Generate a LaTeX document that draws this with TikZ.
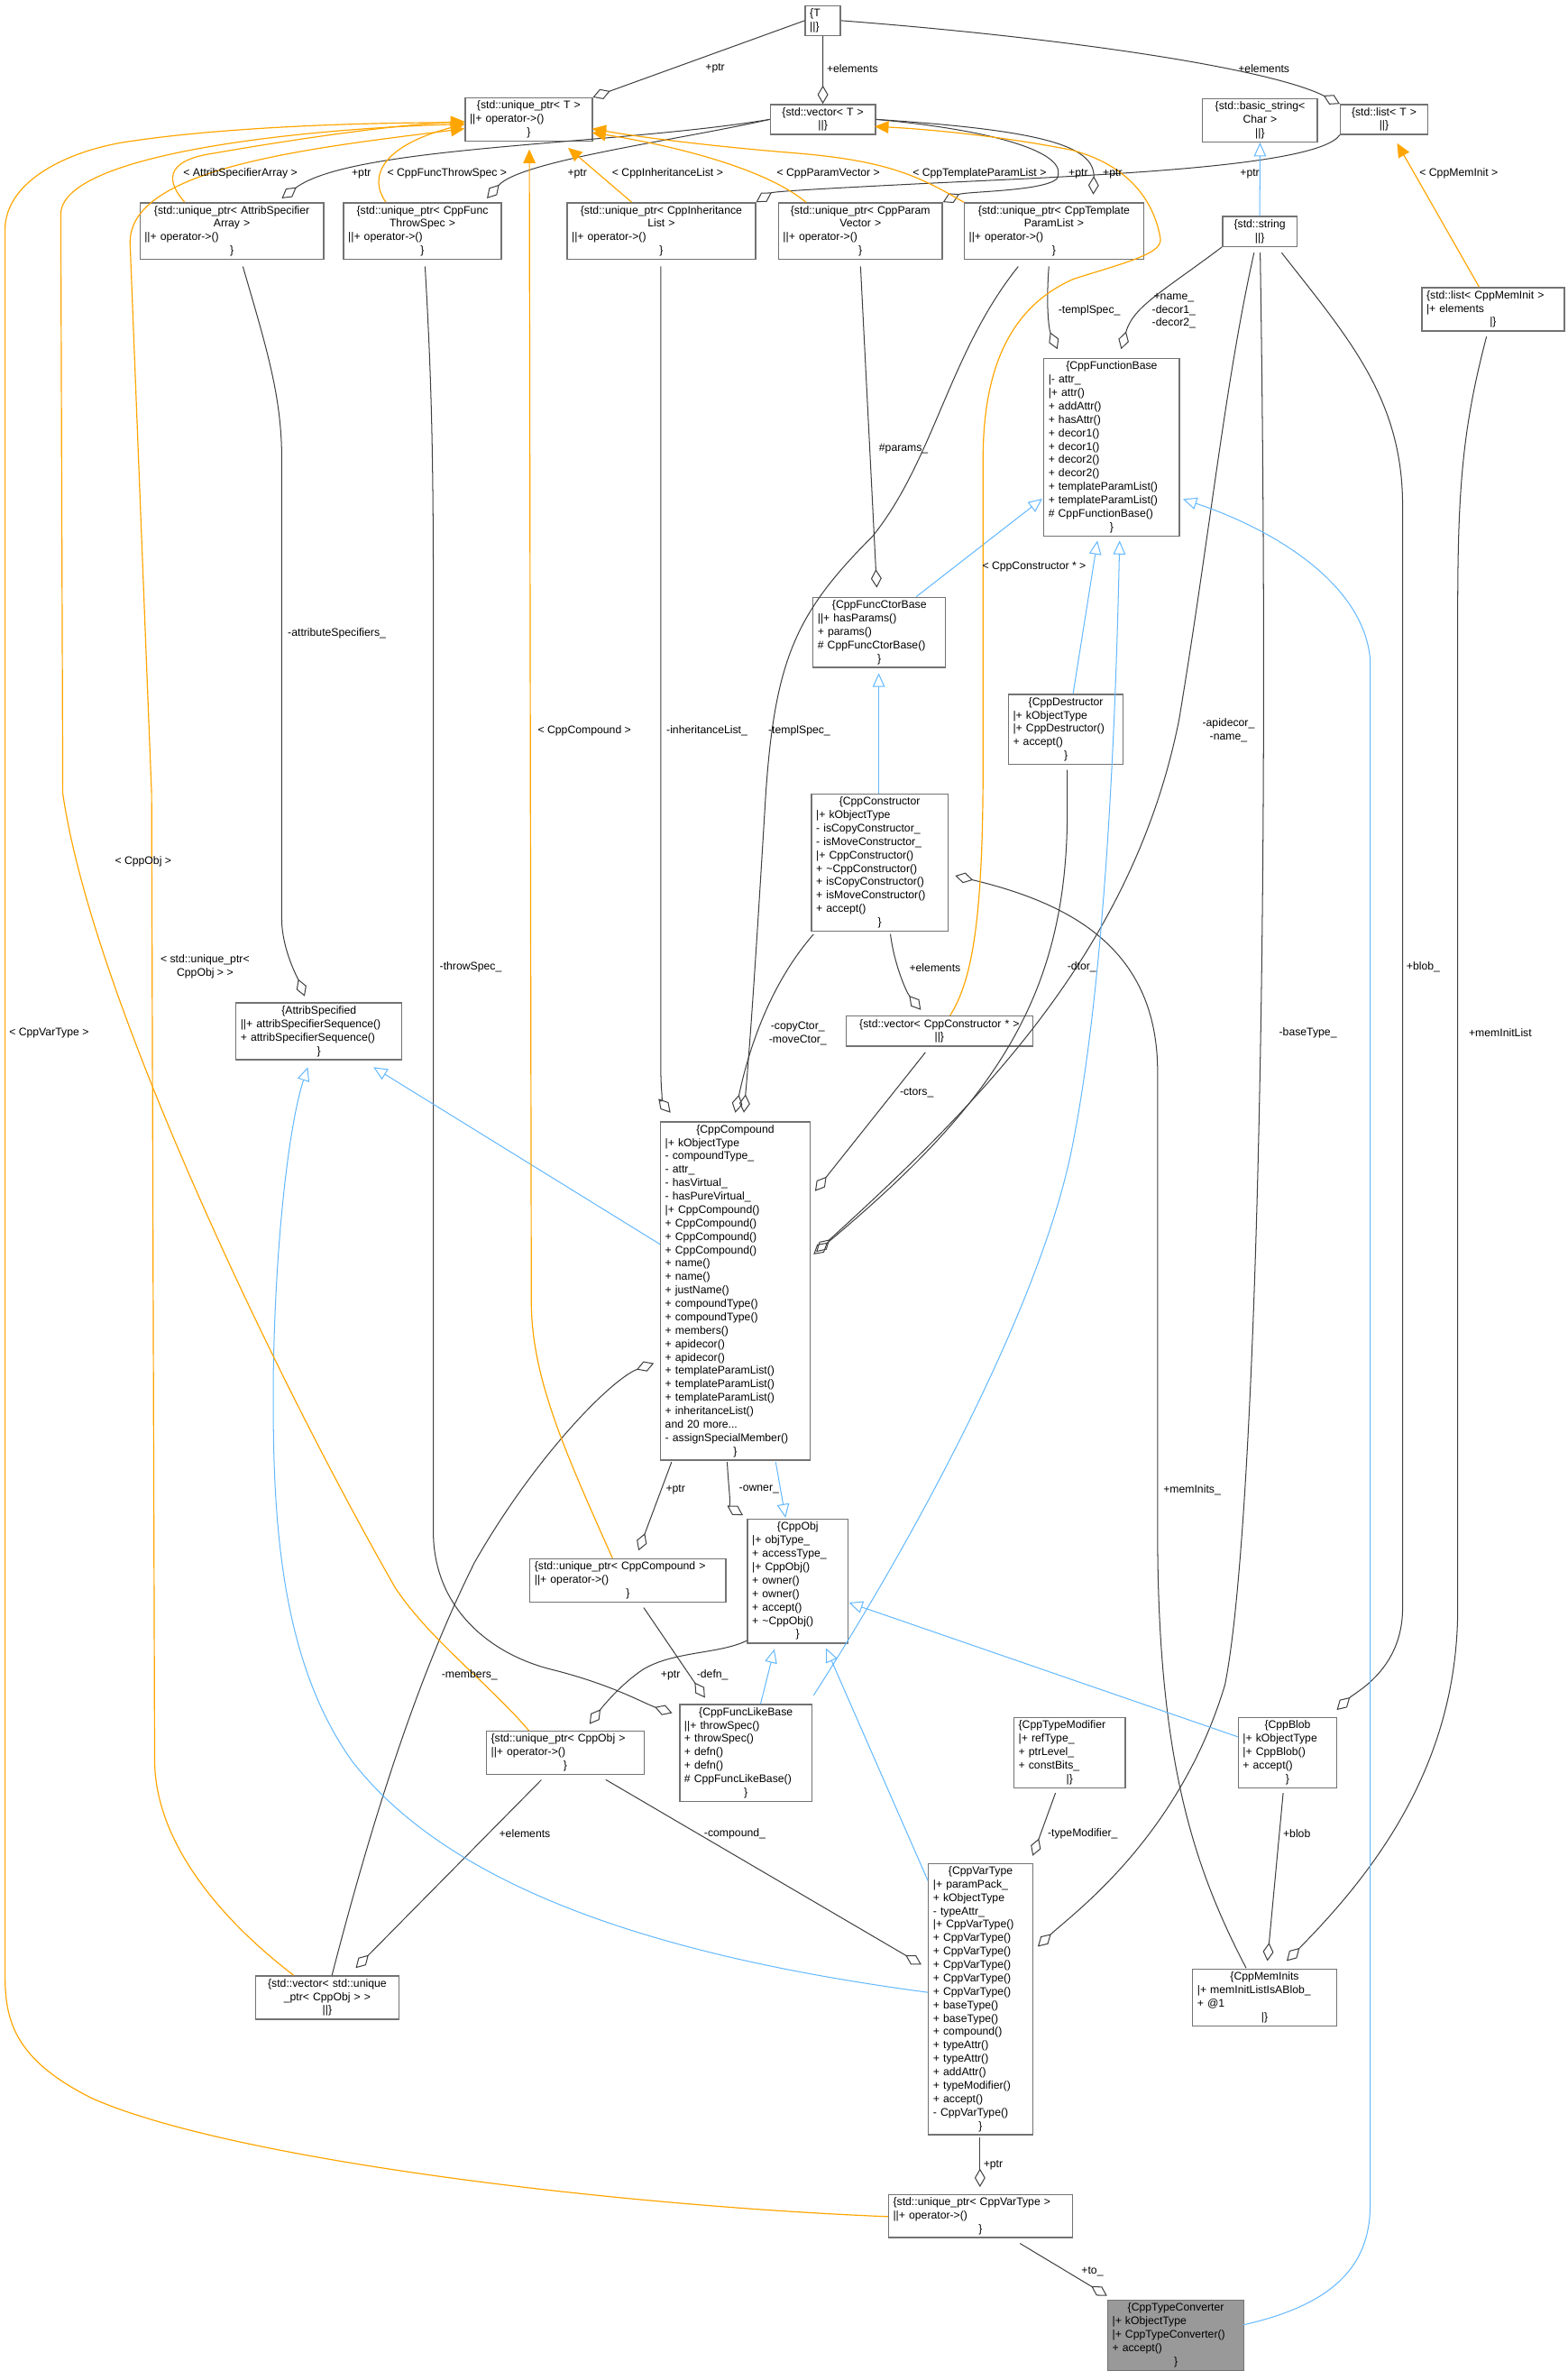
\documentclass[tikz,border=0pt]{standalone}
\usepackage{fontspec}
\setmainfont{Liberation Sans}
\usetikzlibrary{arrows.meta}
\definecolor{inhblue}{RGB}{99,184,255}
\definecolor{tmplor}{RGB}{255,165,0}
\newcommand{\ctr}[1]{\makebox[\hsize]{#1}}
\hyphenpenalty=10000
\exhyphenpenalty=10000
\begin{document}
\begin{tikzpicture}[x=0.5pt,y=-0.5pt,
 box/.style={draw=black!55,line width=0.4pt,fill=white,anchor=north west,align=left,inner xsep=1.5pt,inner ysep=1pt,font=\fontsize{3.6}{4.38}\selectfont},
 lbl/.style={font=\fontsize{3.6}{4.38}\selectfont,align=center,inner sep=0.5pt},
 agg/.style={draw=black!75,line width=0.3pt,-{Diamond[open,length=6pt,width=3.5pt]}},
 inh/.style={draw=inhblue,line width=0.3pt,-{Triangle[open,length=4.5pt,width=4pt]}},
 tpl/.style={draw=tmplor,line width=0.35pt,-{Triangle[length=4.5pt,width=4pt]}}]
\useasboundingbox (0,0) rectangle (1024,1554);
% nodes
\node[box,text width=8.5pt] (T) at (525.5,3.3) {\{T\\||\}};
\node[box,text width=38.5pt] (uptrT) at (303.4,63.5) {\ctr{\{std::unique\_ptr\textless{} T \textgreater}\\||+ operator-\textgreater()\\\ctr{\}}};
\node[box,text width=31.3pt] (vecT) at (502.7,67.8) {\ctr{\{std::vector\textless{} T \textgreater}\\\ctr{||\}}};
\node[box,text width=34.5pt] (bstr) at (785,64) {\ctr{\{std::basic\_string\textless}\\\ctr{Char \textgreater}\\\ctr{||\}}};
\node[box,text width=25.5pt] (listT) at (875,67.8) {\ctr{\{std::list\textless{} T \textgreater}\\\ctr{||\}}};
\node[box,text width=57pt] (upAttrib) at (91,132) {\ctr{\{std::unique\_ptr\textless{} AttribSpecifier}\\\ctr{Array \textgreater}\\||+ operator-\textgreater()\\\ctr{\}}};
\node[box,text width=48.5pt] (upThrow) at (224,132) {\ctr{\{std::unique\_ptr\textless{} CppFunc}\\\ctr{ThrowSpec \textgreater}\\||+ operator-\textgreater()\\\ctr{\}}};
\node[box,text width=58.5pt] (upInh) at (370,132) {\ctr{\{std::unique\_ptr\textless{} CppInheritance}\\\ctr{List \textgreater}\\||+ operator-\textgreater()\\\ctr{\}}};
\node[box,text width=50.5pt] (upParam) at (508,132) {\ctr{\{std::unique\_ptr\textless{} CppParam}\\\ctr{Vector \textgreater}\\||+ operator-\textgreater()\\\ctr{\}}};
\node[box,text width=55.5pt] (upTempl) at (629.4,132) {\ctr{\{std::unique\_ptr\textless{} CppTemplate}\\\ctr{ParamList \textgreater}\\||+ operator-\textgreater()\\\ctr{\}}};
\node[box,text width=21.3pt] (str) at (798,141) {\ctr{\{std::string}\\\ctr{||\}}};
\node[box,text width=43.5pt] (listMI) at (928.2,187.4) {\{std::list\textless{} CppMemInit \textgreater\\|+ elements\\\ctr{|\}}};
\node[box,text width=41.3pt] (FB) at (681.3,233.7) {\ctr{\{CppFunctionBase}\\|- attr\_\\|+ attr()\\+ addAttr()\\+ hasAttr()\\+ decor1()\\+ decor1()\\+ decor2()\\+ decor2()\\+ templateParamList()\\+ templateParamList()\\\# CppFunctionBase()\\\ctr{\}}};
\node[box,text width=40.3pt] (FCB) at (530.6,389.6) {\ctr{\{CppFuncCtorBase}\\||+ hasParams()\\+ params()\\\# CppFuncCtorBase()\\\ctr{\}}};
\node[box,text width=34.5pt] (Dtor) at (658.2,453) {\ctr{\{CppDestructor}\\|+ kObjectType\\|+ CppDestructor()\\+ accept()\\\ctr{\}}};
\node[box,text width=41.5pt] (Ctor) at (529.6,518) {\ctr{\{CppConstructor}\\|+ kObjectType\\- isCopyConstructor\_\\- isMoveConstructor\_\\|+ CppConstructor()\\+ \textasciitilde CppConstructor()\\+ isCopyConstructor()\\+ isMoveConstructor()\\+ accept()\\\ctr{\}}};
\node[box,text width=58pt] (vecCtor) at (552.1,663.1) {\ctr{\{std::vector\textless{} CppConstructor * \textgreater}\\\ctr{||\}}};
\node[box,text width=51.2pt] (AS) at (153.7,654.5) {\ctr{\{AttribSpecified}\\||+ attribSpecifierSequence()\\+ attribSpecifierSequence()\\\ctr{\}}};
\node[box,text width=45.8pt] (Comp) at (431,732.1) {\ctr{\{CppCompound}\\|+ kObjectType\\- compoundType\_\\- attr\_\\- hasVirtual\_\\- hasPureVirtual\_\\|+ CppCompound()\\+ CppCompound()\\+ CppCompound()\\+ CppCompound()\\+ name()\\+ name()\\+ justName()\\+ compoundType()\\+ compoundType()\\+ members()\\+ apidecor()\\+ apidecor()\\+ templateParamList()\\+ templateParamList()\\+ templateParamList()\\+ inheritanceList()\\and 20 more...\\- assignSpecialMember()\\\ctr{\}}};
\node[box,text width=29.8pt] (Obj) at (487.8,991.6) {\ctr{\{CppObj}\\|+ objType\_\\+ accessType\_\\|+ CppObj()\\+ owner()\\+ owner()\\+ accept()\\+ \textasciitilde CppObj()\\\ctr{\}}};
\node[box,text width=61pt] (upComp) at (345.7,1017.4) {\{std::unique\_ptr\textless{} CppCompound \textgreater\\||+ operator-\textgreater()\\\ctr{\}}};
\node[box,text width=40.2pt] (FLB) at (443.5,1112.5) {\ctr{\{CppFuncLikeBase}\\||+ throwSpec()\\+ throwSpec()\\+ defn()\\+ defn()\\\# CppFuncLikeBase()\\\ctr{\}}};
\node[box,text width=48.5pt] (upObj) at (317.3,1130) {\{std::unique\_ptr\textless{} CppObj \textgreater\\||+ operator-\textgreater()\\\ctr{\}}};
\node[box,text width=33.3pt] (TM) at (661.8,1121.1) {\{CppTypeModifier\\|+ refType\_\\+ ptrLevel\_\\+ constBits\_\\\ctr{|\}}};
\node[box,text width=29.2pt] (Blob) at (808.3,1121.1) {\ctr{\{CppBlob}\\|+ kObjectType\\|+ CppBlob()\\+ accept()\\\ctr{\}}};
\node[box,text width=31pt] (VT) at (606,1216.3) {\ctr{\{CppVarType}\\|+ paramPack\_\\+ kObjectType\\- typeAttr\_\\|+ CppVarType()\\+ CppVarType()\\+ CppVarType()\\+ CppVarType()\\+ CppVarType()\\+ CppVarType()\\+ baseType()\\+ baseType()\\+ compound()\\+ typeAttr()\\+ typeAttr()\\+ addAttr()\\+ typeModifier()\\+ accept()\\- CppVarType()\\\ctr{\}}};
\node[box,text width=44pt] (MI) at (778.5,1285.4) {\ctr{\{CppMemInits}\\|+ memInitListIsABlob\_\\+ @1\\\ctr{|\}}};
\node[box,text width=43.7pt] (vecUO) at (166.6,1289.7) {\ctr{\{std::vector\textless{} std::unique}\\\ctr{\_ptr\textless{} CppObj \textgreater{} \textgreater}\\\ctr{||\}}};
\node[box,text width=57pt] (upVT) at (579.9,1432.4) {\{std::unique\_ptr\textless{} CppVarType \textgreater\\||+ operator-\textgreater()\\\ctr{\}}};
\node[box,text width=41.5pt,fill=black!40] (TC) at (723,1501.5) {\ctr{\{CppTypeConverter}\\|+ kObjectType\\|+ CppTypeConverter()\\+ accept()\\\ctr{\}}};
% aggregation edges
\draw[agg] (T.west) -- (uptrT.north east);
\draw[agg] (T.south) -- (vecT.north);
\draw[agg] (T.east) .. controls (700,25) and (830,45) .. (listT.north west);
\draw[agg] (vecT.west) .. controls (400,95) and (230,95) .. (184,129.5);
\draw[agg] (vecT.west) .. controls (440,92) and (340,105) .. (318,129.5);
\draw[agg] (listT.south west) .. controls (860,110) and (700,115) .. (600,120) .. controls (540,123) and (505,125) .. (upInh.north east);
\draw[agg] (vecT.east) .. controls (650,85) and (700,100) .. (690,117) .. controls (680,125) and (630,125) .. (upParam.north east);
\draw[agg] (vecT.east) .. controls (680,85) and (715,95) .. (714,127);
\draw[agg] (158.6,174) .. controls (175,230) and (184,260) .. (184,300) -- (184,600) .. controls (184,620) and (195,640) .. (199,650.5);
\draw[agg] (277.6,174) .. controls (282,250) and (283,300) .. (283,400) -- (283,1000) .. controls (283,1050) and (320,1080) .. (360,1090) .. controls (400,1100) and (420,1112) .. (439,1118.5);
\draw[agg] (431.6,174) -- (431.6,700) .. controls (431.6,715) and (434,722) .. (437.9,726.5);
\draw[agg] (562,174) -- (572.6,383.7);
\draw[agg] (665,174) .. controls (620,230) and (610,300) .. (570,350) .. controls (520,400) and (506,430) .. (500,520) .. controls (494,620) and (490,680) .. (485.8,726.5);
\draw[agg] (685,174) .. controls (683,200) and (685,215) .. (690.6,228);
\draw[agg] (str.south west) .. controls (760,190) and (740,200) .. (732.2,228);
\draw[agg] (819,165) .. controls (800,250) and (790,350) .. (770,470) .. controls (740,620) and (640,720) .. (533,817.4);
\draw[agg] (697,502.7) -- (697,530) .. controls (697,650) and (650,720) .. (531.3,819);
\draw[agg] (823,165) .. controls (830,600) and (820,1000) .. (800,1100) .. controls (770,1200) and (700,1250) .. (677.7,1271);
\draw[agg] (837,165) .. controls (880,220) and (916,260) .. (916,330) -- (916,1050) .. controls (916,1090) and (885,1105) .. (873,1116.5);
\draw[agg] (970.8,219.8) .. controls (955,280) and (952,320) .. (952,400) -- (952,1050) .. controls (952,1150) and (900,1220) .. (840.3,1280.4);
\draw[agg] (813.8,1285) .. controls (780,1220) and (756,1150) .. (756,1000) -- (756,700) .. controls (756,620) and (700,590) .. (623.8,571.8);
\draw[agg] (581.5,609.8) .. controls (584,630) and (592,648) .. (601.4,659.4);
\draw[agg] (531.3,610) .. controls (505,640) and (490,680) .. (480.2,726.5);
\draw[agg] (604.3,687.2) -- (532.3,777.7);
\draw[agg] (438.6,954.6) -- (417,1012.4);
\draw[agg] (474.9,954.6) .. controls (476,975) and (478,985) .. (485.2,989.3);
\draw[agg] (420.4,1049.7) -- (460.4,1108.5);
\draw[agg] (487.8,1071.2) .. controls (470,1080) and (440,1078) .. (420,1090) .. controls (405,1100) and (393,1115) .. (385,1125.7);
\draw[agg] (353.6,1162.1) -- (232.3,1285);
\draw[agg] (216.8,1289.7) .. controls (240,1200) and (270,1100) .. (310,1020) .. controls (350,950) and (400,900) .. (427,890.1);
\draw[agg] (395.6,1162) -- (601.7,1282.7);
\draw[agg] (689.3,1170.7) -- (674.4,1211.7);
\draw[agg] (838,1170.7) -- (827.7,1280.4);
\draw[agg] (640,1395.4) -- (640,1428);
\draw[agg] (666.1,1464.8) -- (723,1499);
% inheritance
\draw[inh] (str.north) -- (bstr.south);
\draw[inh] (598.4,389.6) -- (680.7,325.6);
\draw[inh] (700.8,453) -- (716.7,353);
\draw[inh] (573.9,518) -- (573.9,439.5);
\draw[inh] (431,812.4) -- (243.9,696.8);
\draw[inh] (506.6,954.6) -- (513,991);
\draw[inh] (496.7,1112.5) -- (505.7,1076.8);
\draw[inh] (531.3,1107) .. controls (600,1000) and (680,850) .. (700,750) .. controls (720,650) and (728,500) .. (731.2,353);
\draw[inh] (808.3,1134) -- (554.4,1046.4);
\draw[inh] (606,1228) -- (539.5,1076.2);
\draw[inh] (606,1300.9) .. controls (450,1280) and (300,1240) .. (230,1150) .. controls (180,1080) and (178,980) .. (178.5,898) .. controls (180,800) and (190,730) .. (201,696.8);
\draw[inh] (811.9,1518) .. controls (870,1505) and (894.8,1480) .. (894.8,1440) -- (894.8,430) .. controls (890,380) and (830,345) .. (772.6,325.9);
% template instantiation
\draw[tpl] (120.6,132) .. controls (110,120) and (105,105) .. (140,100) .. controls (180,93) and (250,82) .. (303.4,79.3);
\draw[tpl] (252,132) .. controls (240,115) and (250,95) .. (303.4,81);
\draw[tpl] (412.5,132) -- (371,96.5);
\draw[tpl] (526.3,132) .. controls (500,110) and (440,95) .. (386.7,86.6);
\draw[tpl] (629.4,132) .. controls (600,115) and (580,105) .. (520,100) .. controls (470,96) and (420,90) .. (386.7,84);
\draw[tpl] (400,1017.4) .. controls (370,950) and (347,900) .. (347,850) -- (345.7,97.5);
\draw[tpl] (345.4,1130) .. controls (320,1100) and (280,1070) .. (258,1036.5) .. controls (180,900) and (60,650) .. (41,518) -- (39.7,140) .. controls (39.7,100) and (200,84) .. (303.4,81);
\draw[tpl] (191.7,1289.7) .. controls (140,1250) and (101,1200) .. (101,1149) -- (99,518) -- (85,160) .. controls (82,110) and (200,97) .. (303.4,84);
\draw[tpl] (579.9,1447.3) .. controls (400,1440) and (150,1410) .. (60,1370) .. controls (10,1345) and (3.3,1320) .. (3.3,1290) -- (3.3,150) .. controls (3.3,120) and (40,100) .. (80,93) .. controls (150,82) and (250,80) .. (303.4,80);
\draw[tpl] (620.5,663) .. controls (635,640) and (642,600) .. (642,500) -- (642,300) .. controls (642,240) and (660,200) .. (701.5,182) .. controls (740,170) and (760,165) .. (757.7,155) .. controls (755,140) and (745,110) .. (700,98) .. controls (650,88) and (600,84) .. (571.3,82.6);
\draw[tpl] (966,187.4) -- (912.4,93.5);
% labels
\node[lbl] (l1) at (467,44.6) {+ptr};
\node[lbl] (l2) at (556.7,44.6) {+elements};
\node[lbl] (l3) at (825.4,44.6) {+elements};
\node[lbl] (l4) at (157,113.4) {\textless{} AttribSpecifierArray \textgreater};
\node[lbl] (l5) at (236,113.4) {+ptr};
\node[lbl] (l6) at (292,113.4) {\textless{} CppFuncThrowSpec \textgreater};
\node[lbl] (l7) at (377,113.4) {+ptr};
\node[lbl] (l8) at (436,113.4) {\textless{} CppInheritanceList \textgreater};
\node[lbl] (l9) at (541,113.4) {\textless{} CppParamVector \textgreater};
\node[lbl] (l10) at (639.7,113.4) {\textless{} CppTemplateParamList \textgreater};
\node[lbl] (l11) at (704.2,113.4) {+ptr};
\node[lbl] (l12) at (726.6,113.4) {+ptr};
\node[lbl] (l13) at (816.2,113.4) {+ptr};
\node[lbl] (l14) at (952.7,113.4) {\textless{} CppMemInit \textgreater};
\node[lbl] (l15) at (711.4,203) {-templSpec\_};
\node[lbl] (l16) at (766.6,203) {+name\_\\-decor1\_\\-decor2\_};
\node[lbl] (l17) at (590.1,293) {\#params\_};
\node[lbl] (l18) at (675.4,370.2) {\textless{} CppConstructor * \textgreater};
\node[lbl] (l19) at (220,413.5) {-attributeSpecifiers\_};
\node[lbl] (l20) at (381.7,477) {\textless{} CppCompound \textgreater};
\node[lbl] (l21) at (461.7,477) {-inheritanceList\_};
\node[lbl] (l22) at (522,477) {-templSpec\_};
\node[lbl] (l23) at (802.3,477) {-apidecor\_\\-name\_};
\node[lbl] (l24) at (93.5,562.3) {\textless{} CppObj \textgreater};
\node[lbl] (l25) at (133.9,631.3) {\textless{} std::unique\_ptr\textless\\CppObj \textgreater{} \textgreater};
\node[lbl] (l26) at (307.4,631.7) {-throwSpec\_};
\node[lbl] (l27) at (610.6,631.7) {+elements};
\node[lbl] (l28) at (706.5,631.7) {-dtor\_};
\node[lbl] (l29) at (929.5,631.7) {+blob\_};
\node[lbl] (l30) at (32,674.6) {\textless{} CppVarType \textgreater};
\node[lbl] (l31) at (521,674.6) {-copyCtor\_\\-moveCtor\_};
\node[lbl] (l32) at (854.2,674.6) {-baseType\_};
\node[lbl] (l33) at (979.8,674.6) {+memInitList};
\node[lbl] (l34) at (598.7,713.6) {-ctors\_};
\node[lbl] (l35) at (441.2,972.7) {+ptr};
\node[lbl] (l36) at (495.7,972.7) {-owner\_};
\node[lbl] (l37) at (778.5,972.7) {+memInits\_};
\node[lbl] (l38) at (306.7,1093.7) {-members\_};
\node[lbl] (l39) at (437.9,1093.7) {+ptr};
\node[lbl] (l40) at (465.3,1093.7) {-defn\_};
\node[lbl] (l41) at (342.7,1197.5) {+elements};
\node[lbl] (l42) at (479.9,1197.5) {-compound\_};
\node[lbl] (l43) at (707.1,1197.5) {-typeModifier\_};
\node[lbl] (l44) at (846.9,1197.5) {+blob};
\node[lbl] (l45) at (648.6,1413.6) {+ptr};
\node[lbl] (l46) at (713.4,1483) {+to\_};
\end{tikzpicture}
\end{document}
